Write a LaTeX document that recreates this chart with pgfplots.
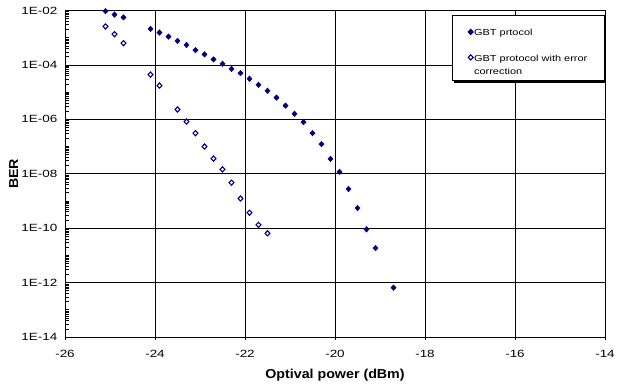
\documentclass[border=0pt]{standalone}
\usepackage{pgfplots}
\pgfplotsset{compat=1.18}
\usepackage{fontspec}
\setmainfont{Liberation Sans}[FakeStretch=1.25]
\newfontfamily\lblfont{Liberation Sans}[FakeStretch=1.1]
\usetikzlibrary{shadows}
\definecolor{navy}{RGB}{0,0,128}
\pgfplotsset{
  imgA/.style={legend image code/.code={\draw[##1] plot coordinates {(0bp,-3.2bp)};}},
  imgB/.style={legend image code/.code={\draw[##1] plot coordinates {(0bp,7bp)};}}}
\begin{document}
\begin{tikzpicture}
\path (0,0) rectangle (626bp,387bp);
\begin{axis}[
  at={(65bp,50bp)}, anchor=south west,
  scale only axis, width=540bp, height=326.5bp,
  ymode=log, xmin=-26, xmax=-14, ymin=1e-14, ymax=1e-2,
  xtick={-26,-24,-22,-20,-18,-16,-14},
  xticklabels={-26,-24,-22,-20,-18,-16,-14},
  ytick={1e-14,1e-12,1e-10,1e-8,1e-6,1e-4,1e-2},
  yticklabels={1E-14,1E-12,1E-10,1E-08,1E-06,1E-04,1E-02},
  minor ytick={2e-14,3e-14,4e-14,5e-14,6e-14,7e-14,8e-14,9e-14,1e-13,
    2e-13,3e-13,4e-13,5e-13,6e-13,7e-13,8e-13,9e-13,
    2e-12,3e-12,4e-12,5e-12,6e-12,7e-12,8e-12,9e-12,1e-11,
    2e-11,3e-11,4e-11,5e-11,6e-11,7e-11,8e-11,9e-11,
    2e-10,3e-10,4e-10,5e-10,6e-10,7e-10,8e-10,9e-10,1e-9,
    2e-9,3e-9,4e-9,5e-9,6e-9,7e-9,8e-9,9e-9,
    2e-8,3e-8,4e-8,5e-8,6e-8,7e-8,8e-8,9e-8,1e-7,
    2e-7,3e-7,4e-7,5e-7,6e-7,7e-7,8e-7,9e-7,
    2e-6,3e-6,4e-6,5e-6,6e-6,7e-6,8e-6,9e-6,1e-5,
    2e-5,3e-5,4e-5,5e-5,6e-5,7e-5,8e-5,9e-5,
    2e-4,3e-4,4e-4,5e-4,6e-4,7e-4,8e-4,9e-4,1e-3,
    2e-3,3e-3,4e-3,5e-3,6e-3,7e-3,8e-3,9e-3},
  grid=major, major grid style={black, line width=0.65bp},
  axis line style={black, line width=0.8bp},
  tick style={black, line width=0.6bp},
  major tick length=3bp, minor tick length=4bp,
  xtick align=outside, ytick align=inside,
  tick pos=left,
  tick label style={font=\fontsize{10.5}{12}\selectfont, xscale=1.03},
  xticklabel style={yshift=-7bp},
  yticklabel style={xshift=-4bp},
  xlabel={\textbf{Optival power (dBm)}},
  ylabel={\textbf{BER}},
  label style={font=\lblfont\fontsize{13}{15}\selectfont},
  xlabel style={at={(axis description cs:0.5,-0.1164)}, anchor=center},
  ylabel style={at={(axis description cs:-0.095,0.5)}, anchor=center},
  clip mode=individual,
  legend style={at={(axis description cs:0.716,0.986)}, anchor=north west,
    draw=black, line width=0.8bp, fill=white,
    drop shadow={shadow xshift=2.2bp, shadow yshift=-2.2bp, fill=black, opacity=1},
    font=\fontsize{8.8}{12.6}\selectfont, inner xsep=16bp, inner ysep=4bp,
    row sep=14bp,
    nodes={inner xsep=0.8bp, inner ysep=1bp}},
  legend cell align=left,
]
\addplot[only marks, mark=diamond*, mark size=2.8bp, color=navy, mark options={xscale=1.25, fill=navy}, imgA]
coordinates {
(-25.1,9.5e-3) (-24.9,7.1e-3) (-24.7,5.6e-3) (-24.1,2.1e-3) (-23.9,1.55e-3) (-23.7,1.1e-3)
(-23.5,7.6e-4) (-23.3,5.4e-4) (-23.1,3.5e-4) (-22.9,2.45e-4) (-22.7,1.6e-4) (-22.5,1.1e-4)
(-22.3,7.1e-5) (-22.1,5.0e-5) (-21.9,3.1e-5) (-21.7,1.86e-5) (-21.5,1.12e-5) (-21.3,6.3e-6)
(-21.1,3.2e-6) (-20.9,1.6e-6) (-20.7,7.9e-7) (-20.5,3.1e-7) (-20.3,1.23e-7) (-20.1,3.5e-8)
(-19.9,1.17e-8) (-19.7,2.75e-9) (-19.5,5.5e-10) (-19.3,9.1e-11) (-19.1,1.86e-11) (-18.7,6.5e-13)
};
\addlegendentry{\rule{0pt}{15bp}GBT prtocol}
\addplot[only marks, mark=diamond*, mark size=2.6bp, color=navy, mark options={xscale=1.25, fill=white, line width=1.1bp}, imgB]
coordinates {
(-25.1,2.6e-3) (-24.9,1.35e-3) (-24.7,6.3e-4) (-24.1,4.4e-5) (-23.9,1.74e-5) (-23.5,2.3e-6)
(-23.3,8.3e-7) (-23.1,3.1e-7) (-22.9,1.0e-7) (-22.7,3.6e-8) (-22.5,1.45e-8) (-22.3,4.7e-9)
(-22.1,1.23e-9) (-21.9,3.7e-10) (-21.7,1.32e-10) (-21.5,6.5e-11)
};
\addlegendentry{\begin{tabular}[b]{@{}l@{}}GBT protocol with error\\correction\end{tabular}}
\end{axis}
\end{tikzpicture}
\end{document}
